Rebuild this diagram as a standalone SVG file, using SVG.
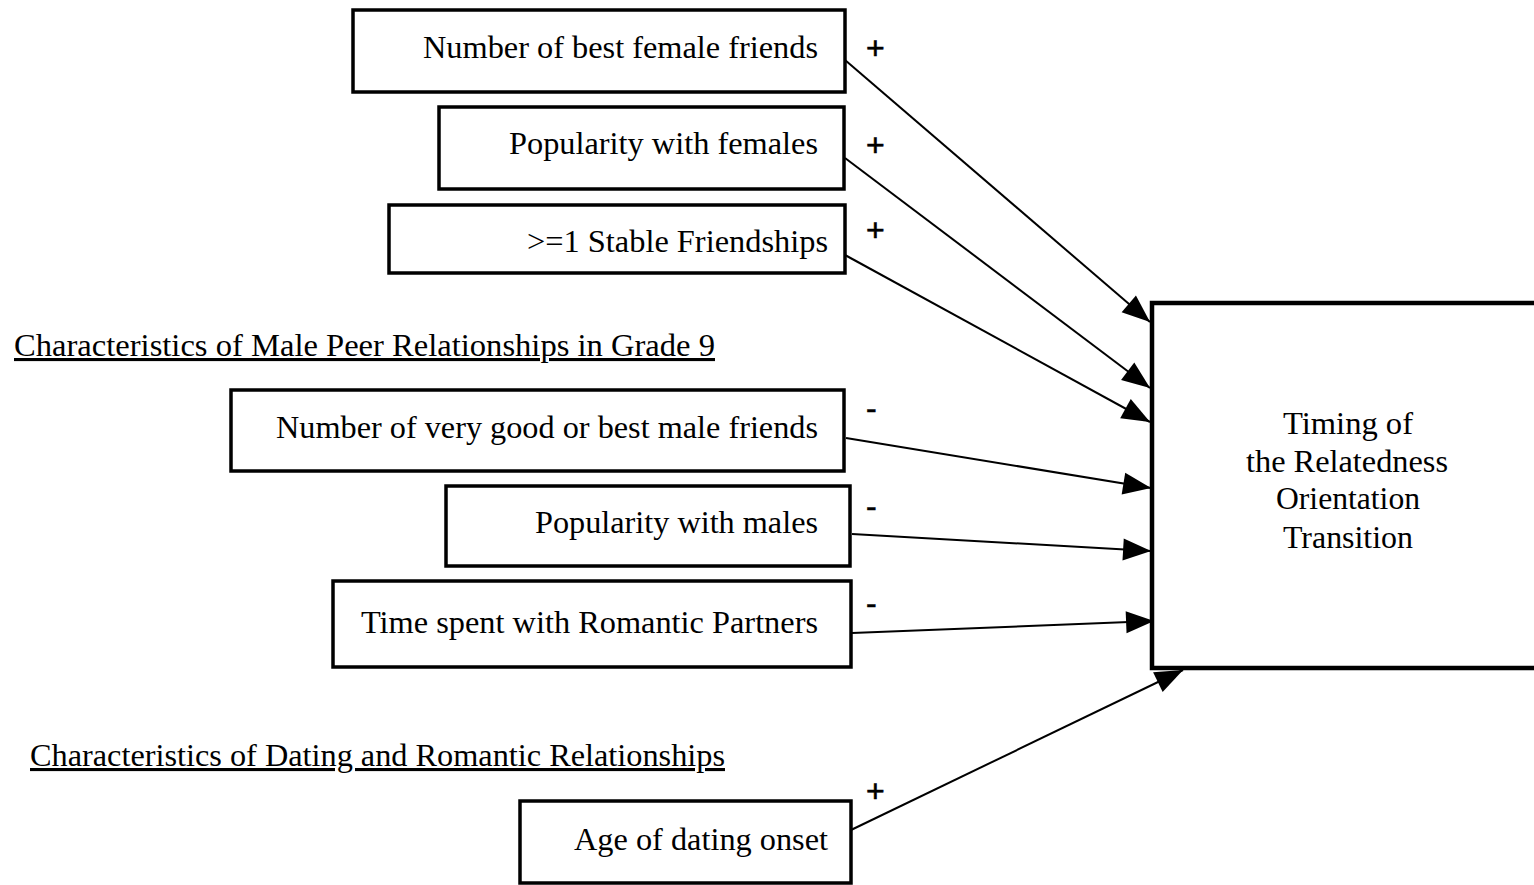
<svg xmlns="http://www.w3.org/2000/svg" width="1534" height="885" viewBox="0 0 1534 885">
<style>
.box{fill:#fff;stroke:#000;stroke-width:3.5}
.big{fill:#fff;stroke:#000;stroke-width:4.5}
.t{font-family:"Liberation Serif",serif;font-size:32px;fill:#000}
.r{text-anchor:end}
.c{text-anchor:middle}
.h{font-family:"Liberation Serif",serif;font-size:31px;fill:#000;text-decoration:underline}
.s{font-family:"Liberation Sans",sans-serif;font-size:32px;fill:#000;stroke:#000;stroke-width:0.6}
.e{stroke:#000;stroke-width:2;fill:none;marker-end:url(#ah)}
</style>
<defs>
<marker id="ah" viewBox="0 0 10 10" refX="10" refY="5" markerWidth="12" markerHeight="10" markerUnits="userSpaceOnUse" orient="auto" overflow="visible">
<path d="M0,0 L10,5 L0,10 z" fill="#000" transform="scale(2.8,2.2) translate(-6.4,-2.7)"/>
</marker>
</defs>
<rect width="1534" height="885" fill="#fff"/>
<g id="connectors">
<line class="e" x1="845" y1="60" x2="1150" y2="322"/>
<line class="e" x1="845" y1="158" x2="1150" y2="388"/>
<line class="e" x1="845" y1="255" x2="1150" y2="422"/>
<line class="e" x1="846" y1="438" x2="1151" y2="488"/>
<line class="e" x1="852" y1="534" x2="1151" y2="551"/>
<line class="e" x1="852" y1="633" x2="1154" y2="621"/>
<line class="e" x1="851" y1="830" x2="1183" y2="670"/>
</g>
<g id="n1"><rect class="box" x="353" y="10" width="492" height="82"/><text class="t r" x="818" y="58" textLength="395" lengthAdjust="spacingAndGlyphs">Number of best female friends</text><text class="s" x="866" y="59">+</text></g>
<g id="n2"><rect class="box" x="439" y="107" width="405" height="82"/><text class="t r" x="818" y="154" textLength="309" lengthAdjust="spacingAndGlyphs">Popularity with females</text><text class="s" x="866" y="156">+</text></g>
<g id="n3"><rect class="box" x="389" y="205" width="456" height="68"/><text class="t r" x="828" y="252" textLength="301" lengthAdjust="spacingAndGlyphs">&gt;=1 Stable Friendships</text><text class="s" x="866" y="241">+</text></g>
<g id="h1"><text class="h" x="14" y="356" textLength="701" lengthAdjust="spacingAndGlyphs">Characteristics of Male Peer  Relationships in Grade 9</text></g>
<g id="n4"><rect class="box" x="231" y="390" width="613" height="81"/><text class="t r" x="818" y="438" textLength="542" lengthAdjust="spacingAndGlyphs">Number of very good or best male friends</text><text class="s" x="866" y="419">-</text></g>
<g id="n5"><rect class="box" x="446" y="486" width="404" height="80"/><text class="t r" x="818" y="533" textLength="283" lengthAdjust="spacingAndGlyphs">Popularity with males</text><text class="s" x="866" y="517">-</text></g>
<g id="n6"><rect class="box" x="333" y="581" width="518" height="86"/><text class="t r" x="818" y="633" textLength="457" lengthAdjust="spacingAndGlyphs">Time spent with Romantic Partners</text><text class="s" x="866" y="614">-</text></g>
<g id="h2"><text class="h" x="30" y="766" textLength="695" lengthAdjust="spacingAndGlyphs">Characteristics of Dating and Romantic Relationships</text></g>
<g id="n7"><rect class="box" x="520" y="801" width="331" height="82"/><text class="t r" x="828" y="850" textLength="254" lengthAdjust="spacingAndGlyphs">Age of dating onset</text><text class="s" x="866" y="802">+</text></g>
<g id="target"><rect class="big" x="1152" y="303" width="390" height="365"/>
<text class="t c" x="1348" y="434" textLength="130" lengthAdjust="spacingAndGlyphs">Timing of</text>
<text class="t c" x="1347" y="472" textLength="202" lengthAdjust="spacingAndGlyphs">the Relatedness</text>
<text class="t c" x="1348" y="509" textLength="144" lengthAdjust="spacingAndGlyphs">Orientation</text>
<text class="t c" x="1348" y="548" textLength="130" lengthAdjust="spacingAndGlyphs">Transition</text></g>
</svg>
